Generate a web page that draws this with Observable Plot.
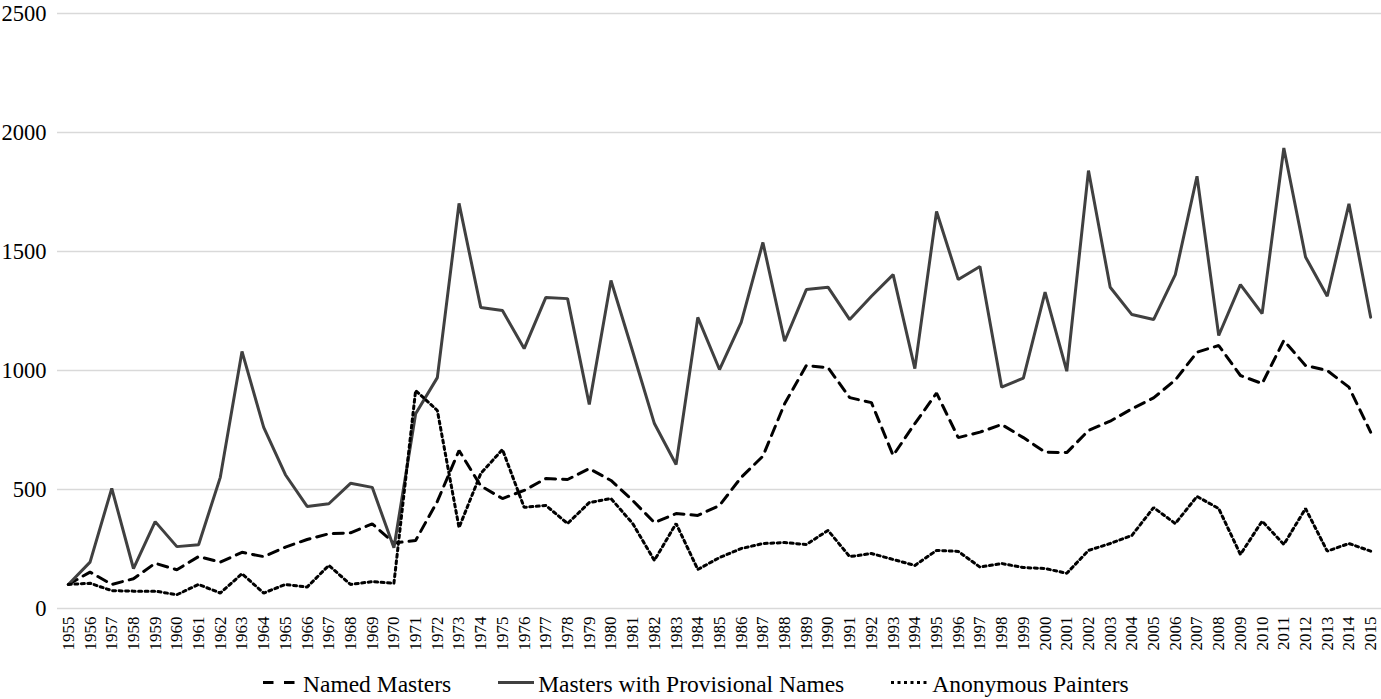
<!DOCTYPE html>
<html>
<head>
<meta charset="utf-8">
<script src="https://cdn.jsdelivr.net/npm/d3@7"></script>
<script src="https://cdn.jsdelivr.net/npm/@observablehq/plot@0.6"></script>
<style>
  body { margin: 0; background: #fff; font-family: 'Liberation Serif', 'Times New Roman', serif; }
  #chart svg { display: block; }
  #chart svg text { font-family: 'Liberation Serif', 'Times New Roman', serif; fill: #000; }
  .legend { display: flex; justify-content: flex-start; align-items: flex-start; height: 37px; box-sizing: border-box; padding-left: 263px; padding-top: 9px; font-size: 23.5px; line-height: 1.107; color: #000; white-space: nowrap; }
  .legend .item { display: flex; align-items: flex-start; margin-right: 47px; }
  .legend svg { display: block; }
</style>
</head>
<body>
<div id="chart"></div>
<div class="legend" id="legend"></div>
<script>
const years = d3.range(1955, 2016);
const seriesNames = ["Named Masters", "Masters with Provisional Names", "Anonymous Painters"];
const named = [101,153,101,125,190,163,218,195,236,218,258,290,314,318,356,275,286,450,664,515,462,496,546,542,588,538,454,361,399,391,433,551,640,860,1021,1012,886,865,643,777,905,718,741,773,718,657,655,748,787,839,885,960,1077,1105,979,945,1126,1021,1000,930,741];
const provisional = [101,195,505,168,365,260,268,551,1080,761,562,429,440,526,509,255,818,970,1702,1265,1252,1092,1307,1302,857,1378,1080,777,605,1223,1004,1202,1538,1123,1340,1350,1214,1312,1403,1008,1668,1382,1437,930,968,1329,997,1840,1350,1235,1214,1403,1816,1147,1361,1239,1935,1477,1312,1700,1224];
const anonymous = [101,106,75,73,73,58,101,65,146,65,101,90,181,101,113,106,916,832,340,567,668,425,433,357,445,462,357,202,357,164,214,252,273,277,269,328,218,231,206,181,244,240,174,189,172,168,148,244,273,307,424,357,471,420,227,367,269,420,241,273,241];
const yTicks = [0, 500, 1000, 1500, 2000, 2500];

const styles = [
  {stroke: "#000", strokeWidth: 3, strokeDasharray: "10,7"},
  {stroke: "#404040", strokeWidth: 3, strokeDasharray: null},
  {stroke: "#000", strokeWidth: 3, strokeDasharray: "3,3.5"}
];
const values = [named, provisional, anonymous];

const marks = [
  Plot.ruleY(yTicks, {stroke: "#d9d9d9", strokeWidth: 1.5})
];
values.forEach((vals, i) => {
  const data = years.map((y, j) => ({year: String(y), value: vals[j]}));
  marks.push(Plot.line(data, {
    x: "year", y: "value",
    stroke: styles[i].stroke,
    strokeWidth: styles[i].strokeWidth,
    strokeDasharray: styles[i].strokeDasharray,
    strokeLinejoin: "miter",
    curve: "linear"
  }));
});

const chart = Plot.plot({
  width: 1381,
  height: 662,
  marginLeft: 57,
  marginRight: 0,
  marginTop: 13,
  marginBottom: 54,
  style: "font-family: 'Liberation Serif', 'Times New Roman', serif; color: #000; background: #fff;",
  x: {type: "point", domain: years.map(String), padding: 0.5, label: null},
  y: {domain: [0, 2500], label: null},
  marks: [
    ...marks,
    Plot.axisX({tickSize: 0, tickPadding: 8, tickRotate: -90, fontSize: 17, label: null}),
    Plot.axisY(yTicks, {tickSize: 0, tickPadding: 11, fontSize: 22.5, label: null, tickFormat: d => String(d)})
  ]
});
document.getElementById("chart").appendChild(chart);

const legend = document.getElementById("legend");
const sampleW = [32, 36, 37];
const sampleGap = [8, 4, 4];
seriesNames.forEach((name, i) => {
  const item = document.createElement("div");
  item.className = "item";
  if (i === seriesNames.length - 1) item.style.marginRight = "0";
  const s = styles[i];
  const w = sampleW[i];
  const dash = i === 0 ? "10.5,10.5" : s.strokeDasharray;
  item.innerHTML = `<svg width="${w}" height="25" style="margin-right:${sampleGap[i]}px"><line x1="0" y1="11.5" x2="${w}" y2="11.5" stroke="${s.stroke}" stroke-width="${s.strokeWidth}" ${dash ? `stroke-dasharray="${dash}"` : ""}/></svg><span>${name}</span>`;
  legend.appendChild(item);
});
</script>
</body>
</html>
